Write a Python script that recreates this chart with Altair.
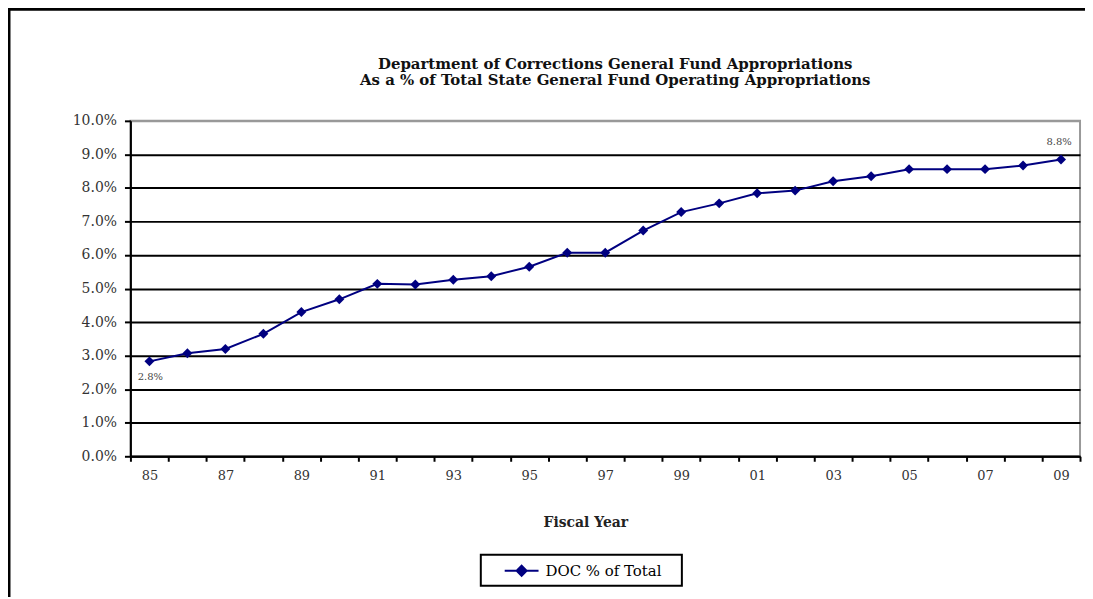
import altair as alt
import pandas as pd

years = ["85", "86", "87", "88", "89", "90", "91", "92", "93", "94", "95", "96", "97",
         "98", "99", "00", "01", "02", "03", "04", "05", "06", "07", "08", "09"]
doc_pct = [2.83, 3.07, 3.20, 3.65, 4.30, 4.68, 5.14, 5.12, 5.26, 5.37, 5.65, 6.07, 6.07,
           6.73, 7.28, 7.54, 7.84, 7.92, 8.20, 8.35, 8.56, 8.56, 8.56, 8.67, 8.85]
shown_years = ["85", "87", "89", "91", "93", "95", "97", "99", "01", "03", "05", "07", "09"]
series_name = "DOC % of Total"
y_ticks = [0, 1, 2, 3, 4, 5, 6, 7, 8, 9, 10]
first_label = "2.8%"
last_label = "8.8%"

df = pd.DataFrame({"year": years, "pct": doc_pct, "series": [series_name] * len(years)})
df_first = pd.DataFrame({"year": [years[0]], "pct": [doc_pct[0]], "txt": [first_label]})
df_last = pd.DataFrame({"year": [years[-1]], "pct": [doc_pct[-1]], "txt": [last_label]})

FONT = "DejaVu Serif"
NAVY = "#000080"
shown_js = "[" + ",".join("'%s'" % s for s in shown_years) + "]"

x_enc = alt.X("year:N", sort=years, scale=alt.Scale(paddingInner=0, paddingOuter=0),
              axis=alt.Axis(title="Fiscal Year", labelAngle=0, tickBand="extent", labelOverlap=False,
                            labelExpr="indexof(%s, datum.value) >= 0 ? datum.label : ''" % shown_js,
                            domainColor="black", domainWidth=2, tickColor="black", tickWidth=2,
                            tickSize=5, labelPadding=8, labelFontSize=13, labelColor="#333",
                            labelFont=FONT, titleFont=FONT, titleFontSize=14, titleFontWeight="bold",
                            titleColor="#222", titleX=457, titleY=67, titleBaseline="middle",
                            titleAlign="center", grid=False))
y_enc = alt.Y("pct:Q", scale=alt.Scale(domain=[0, 10], nice=False),
              axis=alt.Axis(title=None, values=y_ticks, labelOverlap=False,
                            labelExpr="format(datum.value, '.1f') + '%'",
                            domainColor="black", domainWidth=2, tickColor="black", tickWidth=2,
                            tickSize=6, labelPadding=8, labelFontSize=14, labelColor="#333",
                            labelFont=FONT, grid=True,
                            gridColor=alt.condition("datum.value == 10", alt.value("#999999"), alt.value("black")),
                            gridWidth=2))

line = alt.Chart(df).mark_line(strokeWidth=2).encode(
    x=x_enc, y=y_enc,
    color=alt.Color("series:N", scale=alt.Scale(range=[NAVY]),
                    legend=alt.Legend(title=None, orient="none", legendX=352, legendY=436,
                                      direction="horizontal",
                                      symbolType="M-1.7,0H1.7M0,-0.5L0.5,0L0,0.5L-0.5,0Z",
                                      symbolSize=400, symbolStrokeWidth=2,
                                      symbolFillColor=NAVY, symbolStrokeColor=NAVY,
                                      symbolOffset=25, labelOffset=13,
                                      labelFont=FONT, labelFontSize=15, labelColor="black",
                                      padding=5)),
)
points = alt.Chart(df).mark_point(shape="diamond", filled=True, size=100, opacity=1, color=NAVY).encode(
    x=x_enc, y=y_enc)

lab1 = alt.Chart(df_first).mark_text(font=FONT, fontSize=10, color="#444", dy=16, dx=1).encode(
    x=x_enc, y=y_enc, text="txt:N")
lab2 = alt.Chart(df_last).mark_text(font=FONT, fontSize=10, color="#444", dy=-17, dx=-2).encode(
    x=x_enc, y=y_enc, text="txt:N")

border_left = alt.Chart(df_first).mark_rule(color="black", strokeWidth=3).encode(
    x=alt.value(-122), y=alt.value(-113), y2=alt.value(480))
border_top = alt.Chart(df_first).mark_rule(color="black", strokeWidth=3).encode(
    x=alt.value(-123), x2=alt.value(980), y=alt.value(-112))
legend_box = alt.Chart(df_first).mark_rect(fill=None, stroke="black", strokeWidth=2).encode(
    x=alt.value(352), x2=alt.value(554), y=alt.value(436), y2=alt.value(467))

chart = alt.layer(line, points, lab1, lab2, border_left, border_top, legend_box).properties(
    width=954, height=337,
    title=alt.TitleParams(
        text=["Department of Corrections General Fund Appropriations",
              "As a % of Total State General Fund Operating Appropriations"],
        font=FONT, fontSize=15, fontWeight="bold", color="#111", anchor="middle",
        dx=10, offset=-82, lineHeight=17),
    autosize=alt.AutoSizeParams(type="none"),
    padding={"left": 123, "top": 112, "right": 5, "bottom": 140},
).configure_view(stroke="#999999", strokeWidth=2)

chart.save("out.html", embed_options={"renderer": "svg", "actions": False})
